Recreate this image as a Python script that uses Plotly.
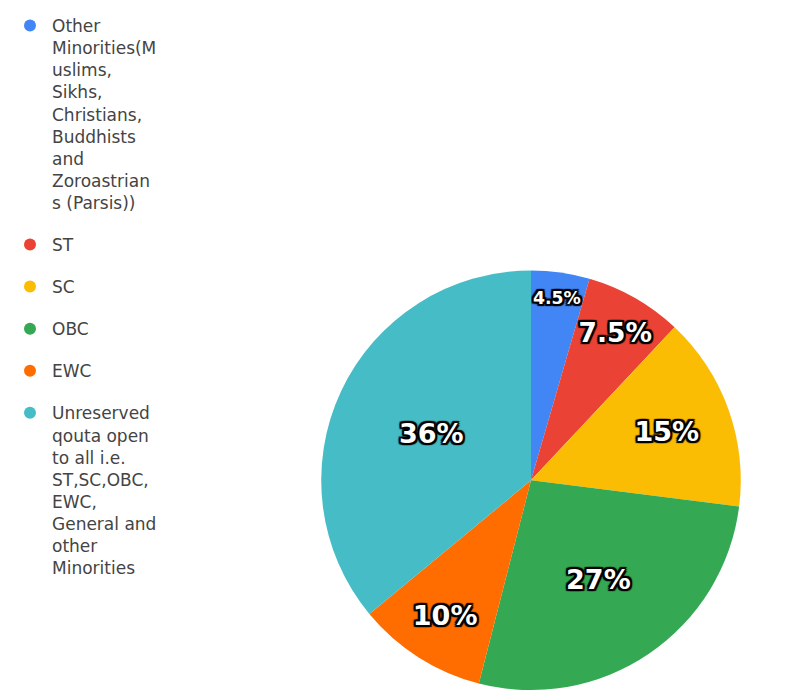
import plotly.graph_objects as go

categories = [
    "Other<br>Minorities(M<br>uslims,<br>Sikhs,<br>Christians,<br>Buddhists<br>and<br>Zoroastrian<br>s (Parsis))",
    "ST",
    "SC",
    "OBC",
    "EWC",
    "Unreserved<br>qouta open<br>to all i.e.<br>ST,SC,OBC,<br>EWC,<br>General and<br>other<br>Minorities",
]
values = [4.5, 7.5, 15, 27, 10, 36]
colors = ["#4285F4", "#EA4335", "#FBBC04", "#34A853", "#FF6D01", "#46BDC6"]

W, H = 804, 690
cx, cy, r = 523, 471, 211

fig = go.Figure()
fig.add_trace(go.Pie(
    labels=categories,
    values=values,
    sort=False,
    direction="clockwise",
    rotation=0,
    marker=dict(colors=colors, line=dict(width=0)),
    texttemplate="%{value}%",
    textposition="inside",
    insidetextorientation="horizontal",
    textfont=dict(family="DejaVu Sans", size=27, color="white", weight="bold",
                  shadow="2px 2px 1px #000, -2px -2px 1px #000, 2px -2px 1px #000, -2px 2px 1px #000, 0 2px 1px #000, 0 -2px 1px #000, 2px 0 1px #000, -2px 0 1px #000"),
    hoverinfo="label+percent",
    showlegend=False,
    domain=dict(x=[(cx - r) / W, (cx + r) / W], y=[max(0, 1 - (cy + r) / H), 1 - (cy - r) / H]),
))

for i, (name, col) in enumerate(zip(categories, colors)):
    fig.add_trace(go.Scatter(
        x=[None], y=[None], mode="markers", name=name,
        legendgroup=f"g{i}",
        marker=dict(symbol="circle", size=16, color=col),
    ))

fig.update_layout(
    width=W, height=H,
    margin=dict(l=0, r=0, t=0, b=0),
    paper_bgcolor="white",
    plot_bgcolor="white",
    xaxis=dict(visible=False),
    yaxis=dict(visible=False),
    legend=dict(
        x=0.0, y=1.006, xanchor="left", yanchor="top",
        font=dict(family="DejaVu Sans", size=17, color="#444"),
        valign="top",
        tracegroupgap=17,
        itemsizing="constant",
        itemwidth=34,
        maxheight=1,
    ),
)

fig.write_html("out.html")
